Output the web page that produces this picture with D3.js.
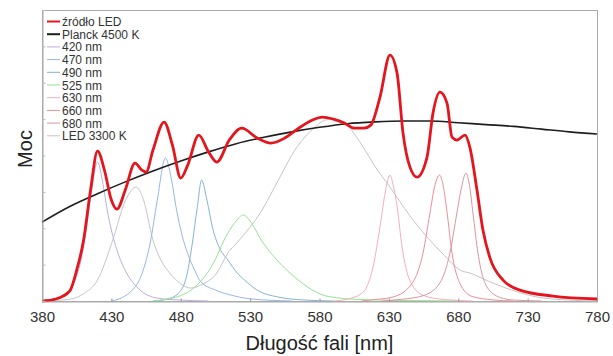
<!DOCTYPE html>
<html>
<head>
<meta charset="utf-8">
<script src="https://cdn.jsdelivr.net/npm/d3@7"></script>
<style>
  body { margin: 0; background: #fff; }
  svg { font-family: "Liberation Sans", Arial, sans-serif; }
  .legend text { font-size: 12px; fill: #333; }
  .tick text { font-size: 15px; fill: #333; }
</style>
</head>
<body>
<svg width="613" height="356"></svg>
<script>
// wavelength [nm], power (arbitrary units)
const ledSource = [[380,0],[390,0.011],[400,0.055],[405,0.17],[410,0.335],[415,0.61],[420,0.824],[425,0.72],[430,0.555],[434,0.505],[440,0.61],[447,0.758],[452,0.72],[455,0.709],[460,0.83],[468,0.984],[474,0.857],[480,0.676],[485,0.747],[493,0.912],[500,0.82],[506,0.764],[515,0.885],[524,0.95],[535,0.896],[545,0.868],[555,0.896],[565,0.95],[575,0.995],[582,1.011],[590,1.0],[598,0.978],[605,0.95],[612,0.95],[617,0.967],[623.6,1.121],[630.8,1.352],[635.9,1.253],[640.2,0.923],[645.2,0.736],[650.3,0.681],[657.5,0.791],[661.8,1.033],[666.8,1.148],[671.9,1.088],[675.5,0.901],[679.1,0.885],[684.9,0.912],[688.5,0.841],[693.5,0.61],[697.8,0.39],[702.9,0.236],[712.3,0.115],[724.5,0.06],[748.3,0.027],[780,0.011]]

const planck = [[380,0.434],[400,0.52],[420,0.59],[440,0.655],[460,0.715],[480,0.77],[500,0.82],[520,0.865],[540,0.9],[560,0.93],[580,0.955],[600,0.975],[620,0.985],[640,0.99],[660,0.99],[680,0.98],[700,0.97],[720,0.96],[740,0.945],[760,0.93],[780,0.918]]

const led420 = [[380,0.003],[390,0.01],[398,0.04],[403,0.1],[408,0.22],[412,0.4],[416,0.62],[420,0.764],[424,0.64],[427,0.5],[430,0.39],[434,0.28],[441,0.154],[450,0.065],[463,0.016],[480,0.005],[500,0]]
const led470 = [[430,0],[438,0.02],[445,0.06],[451,0.13],[458,0.32],[463,0.55],[469,0.786],[473,0.68],[477,0.5],[481,0.36],[485,0.26],[490,0.17],[494,0.11],[505,0.06],[515,0.035],[530,0.012],[560,0]]
const led490 = [[460,0],[470,0.01],[478,0.04],[484,0.13],[488,0.3],[492,0.52],[495,0.665],[499,0.55],[503,0.4],[508,0.29],[514,0.225],[520,0.16],[526,0.115],[535,0.06],[550,0.022],[570,0.005],[590,0]]
const led525 = [[460,0],[470,0.01],[480,0.03],[490,0.075],[502,0.187],[514,0.374],[520,0.44],[525,0.473],[530,0.44],[538,0.335],[550,0.22],[562,0.132],[575,0.06],[586,0.025],[610,0.008],[650,0.002],[680,0]]
const led630 = [[590,0],[600,0.01],[610,0.04],[614,0.077],[618.6,0.187],[623.6,0.407],[627,0.58],[630.8,0.692],[633,0.64],[636,0.516],[639.5,0.297],[645,0.115],[655,0.03],[670,0.008],[690,0]]
const led660 = [[610,0],[620,0.008],[633,0.022],[647,0.1],[654.6,0.264],[659.6,0.483],[663,0.63],[666.5,0.692],[669,0.64],[672,0.483],[675.5,0.264],[681,0.1],[690,0.025],[705,0.006],[720,0]]
const led680 = [[625,0],[640,0.01],[655,0.03],[666.8,0.1],[674,0.264],[679,0.483],[682.5,0.63],[685.5,0.703],[688,0.64],[690.6,0.483],[694.2,0.264],[700.7,0.077],[710,0.02],[720,0.005],[740,0]]
const led3300 = [[380,0],[400,0.01],[410,0.04],[420,0.115],[431,0.335],[440,0.55],[448,0.626],[453,0.56],[460,0.335],[466,0.22],[472,0.154],[480,0.095],[487,0.071],[495,0.09],[506,0.154],[514,0.264],[520.5,0.32],[538.6,0.5],[550,0.66],[562.3,0.83],[576.8,0.956],[584,0.995],[590,1.0],[598.4,0.978],[605,0.92],[612.8,0.83],[620,0.74],[630.8,0.626],[645,0.47],[657.5,0.352],[670,0.25],[681.3,0.17],[690,0.15],[700,0.115],[712.3,0.077],[736.8,0.022],[760,0.005],[780,0]]

const xTicks = [380, 430, 480, 530, 580, 630, 680, 730, 780]

const seriesNames = ["źródło LED", "Planck 4500 K", "420 nm", "470 nm", "490 nm", "525 nm", "630 nm", "660 nm", "680 nm", "LED 3300 K"]
const seriesData = [ledSource, planck, led420, led470, led490, led525, led630, led660, led680, led3300]

const colors = ["#e3161e", "#1e1e1e", "#bfaedb", "#98b6e4", "#86b3cf", "#94e494", "#f3b0bb", "#ee8d96", "#d9959e", "#c6c6ca"]
const widths = [2.8, 1.6, 1, 1, 1, 1, 1, 1, 1, 1]

const series = seriesNames.map((name, i) => ({ name: name, values: seriesData[i], color: colors[i], width: widths[i] }))

const svg = d3.select("svg")

const margin = { top: 10, right: 16, bottom: 55, left: 42 }
const width = 613 - margin.left - margin.right
const height = 356 - margin.top - margin.bottom

const x = d3.scaleLinear().domain([380, 780]).range([margin.left, margin.left + width])
const y = d3.scaleLinear().domain([0, 1.6]).range([margin.top + height, margin.top])

const line = d3.line()
    .x(d => x(d[0]))
    .y(d => y(d[1]))
    .curve(d3.curveMonotoneX)

// frame
svg.append("rect")
    .attr("x", margin.left + 0.5)
    .attr("y", margin.top + 0.5)
    .attr("width", width)
    .attr("height", height)
    .style("fill", "none")
    .style("stroke", "#aaa")

// thin components first, then Planck, LED source on top
const drawOrder = [9, 2, 3, 4, 5, 6, 7, 8, 1, 0].map(i => series[i])

svg.append("g")
    .selectAll("path")
    .data(drawOrder)
    .enter()
    .append("path")
    .attr("d", d => line(d.values))
    .style("fill", "none")
    .style("stroke", d => d.color)
    .style("stroke-width", d => d.width)

// axes
const xAxis = svg.append("g")
    .attr("transform", `translate(0, ${margin.top + height + 0.5})`)
    .call(d3.axisBottom(x).tickValues(xTicks).tickSizeInner(-3).tickSizeOuter(0).tickPadding(10))

xAxis.select(".domain").style("stroke", "#aaa")
xAxis.selectAll(".tick line").style("stroke", "#999")

const yAxis = svg.append("g")
    .attr("transform", `translate(${margin.left + 0.5}, 0)`)
    .call(d3.axisLeft(y).ticks(8).tickSizeInner(-3).tickSizeOuter(0).tickFormat(""))

yAxis.select(".domain").style("stroke", "#aaa")
yAxis.selectAll(".tick line").style("stroke", "#bbb")

svg.append("text")
    .attr("x", margin.left + width / 2)
    .attr("y", 350)
    .attr("text-anchor", "middle")
    .style("font-size", "20px")
    .style("fill", "#222")
    .text("Długość fali [nm]")

svg.append("text")
    .attr("transform", "translate(32, 149) rotate(-90)")
    .attr("text-anchor", "middle")
    .style("font-size", "20px")
    .style("fill", "#222")
    .text("Moc")

// legend
const legend = svg.append("g")
    .attr("class", "legend")
    .attr("transform", "translate(47, 21.5)")

const items = legend.selectAll("g")
    .data(series)
    .enter()
    .append("g")
    .attr("transform", (d, i) => `translate(0, ${i * 12.7})`)

items.append("line")
    .attr("x1", 0)
    .attr("x2", 13)
    .attr("y1", 0)
    .attr("y2", 0)
    .style("stroke", d => d.color)
    .style("stroke-width", d => d.width > 1.5 ? 2 : 1)

items.append("text")
    .attr("x", 15)
    .attr("y", 4.5)
    .text(d => d.name)
</script>
</body>
</html>
